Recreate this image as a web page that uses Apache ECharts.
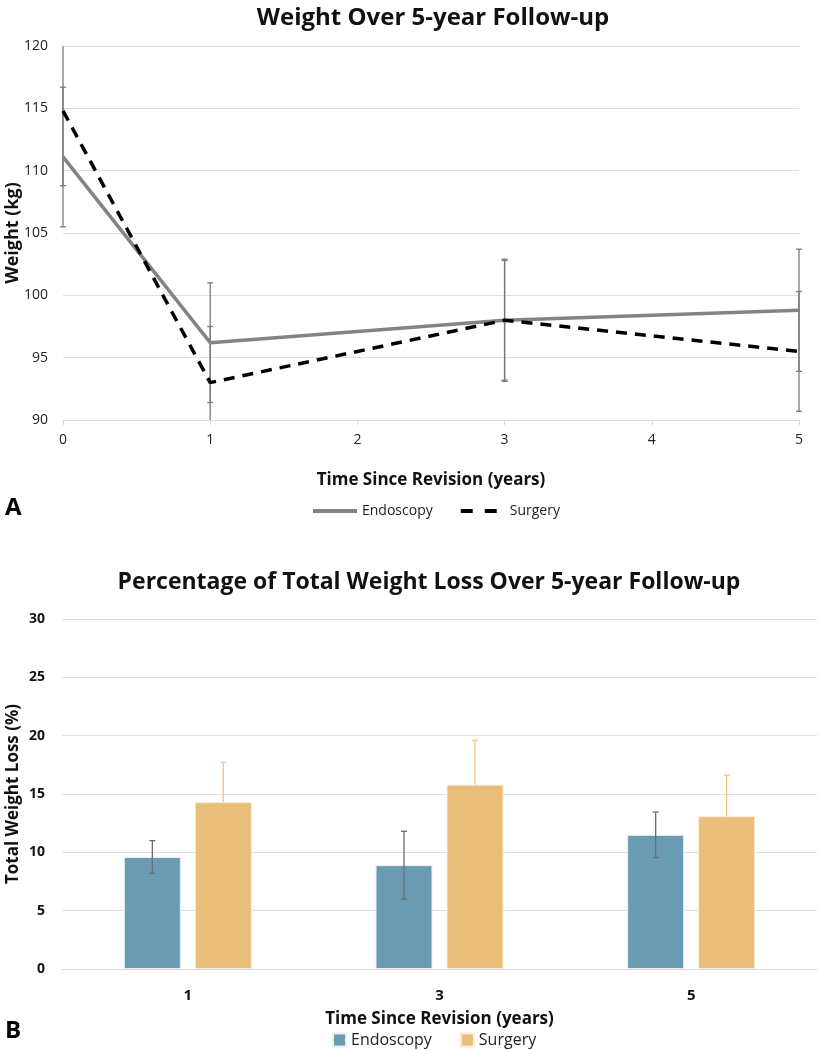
<!DOCTYPE html>
<html>
<head>
<meta charset="utf-8">
<script src="https://cdn.jsdelivr.net/npm/echarts@6/dist/echarts.min.js"></script>
<style>
html,body{margin:0;padding:0;background:#fff;}
#chart{width:819px;height:1050px;}
</style>
</head>
<body>
<div id="chart"></div>
<script>
// ---- Panel A data ----
const weightYears = [0, 1, 3, 5];
const endoWeight = [111.1, 96.2, 98.0, 98.8];
const endoWeightErr = [5.6, 4.8, 4.9, 4.9];
const surgWeight = [114.8, 93.0, 98.0, 95.5];
const surgWeightErr = [6.0, 4.5, 4.8, 4.8];
const weightTicks = [90, 95, 100, 105, 110, 115, 120];

// ---- Panel B data ----
const twlCategories = ['1', '3', '5'];
const endoTWL = [9.6, 8.9, 11.5];
const endoTWLErr = [1.4, 2.9, 1.95];
const surgTWL = [14.3, 15.8, 13.1];
const surgTWLErr = [3.4, 3.8, 3.5];

const FONT = '"Open Sans", "Noto Sans", sans-serif';
const BAR_W = 57, BAR_GAP_PX = 14;

function pairs(xs, ys) { return xs.map((x, i) => [x, ys[i]]); }
function errData(xs, ys, es) { return xs.map((x, i) => [x, ys[i] - es[i], ys[i] + es[i]]); }

function errRender(color, capHalf, offset) {
  return function (params, api) {
    const cs = params.coordSys;
    const x = api.coord([api.value(0), api.value(1)])[0] + offset;
    let yLo = api.coord([api.value(0), api.value(1)])[1];
    let yHi = api.coord([api.value(0), api.value(2)])[1];
    const top = cs.y, bot = cs.y + cs.height;
    const loClipped = yLo > bot, hiClipped = yHi < top;
    yLo = Math.min(Math.max(yLo, top), bot);
    yHi = Math.min(Math.max(yHi, top), bot);
    const style = { stroke: color, lineWidth: 1.3 };
    const children = [{ type: 'line', shape: { x1: x, y1: yLo, x2: x, y2: yHi }, style }];
    if (!hiClipped) children.push({ type: 'line', shape: { x1: x - capHalf, y1: yHi, x2: x + capHalf, y2: yHi }, style });
    if (!loClipped) children.push({ type: 'line', shape: { x1: x - capHalf, y1: yLo, x2: x + capHalf, y2: yLo }, style });
    return { type: 'group', children };
  };
}

const chart = echarts.init(document.getElementById('chart'), null, { renderer: 'canvas' });
const off = (BAR_W + BAR_GAP_PX) / 2;

chart.setOption({
  backgroundColor: '#ffffff',
  animation: false,
  textStyle: { fontFamily: FONT },
  title: [
    { text: 'Weight Over 5-year Follow-up', left: 428, top: 1, textAlign: 'center',
      textStyle: { fontFamily: FONT, fontSize: 24, fontWeight: 'bold', color: '#111' } },
    { text: 'Percentage of Total Weight Loss Over 5-year Follow-up', left: 424, top: 566, textAlign: 'center',
      textStyle: { fontFamily: FONT, fontSize: 23, fontWeight: 'bold', color: '#111' } }
  ],
  legend: [
    { data: [
        { name: 'Endoscopy', icon: 'path://M0,0H44V4H0Z' },
        { name: 'Surgery', icon: 'path://M0,0H12V4H0Z M24,0H36V4H24Z M43.9,1.9H44V2.1H43.9Z' }
      ],
      top: 504, left: 313, padding: 0, itemWidth: 44, itemHeight: 4, itemGap: 28, symbolKeepAspect: false,
      textStyle: { fontFamily: FONT, fontSize: 14, color: '#222' } },
    { data: ['Endoscopy TWL', 'Surgery TWL'], top: 1032, left: 332, padding: 0, itemWidth: 13, itemHeight: 13, itemGap: 28,
      icon: 'rect',
      formatter: n => n.replace(' TWL', ''),
      textStyle: { fontFamily: FONT, fontSize: 16, color: '#222' } }
  ],
  grid: [
    { left: 63, right: 20, top: 46, height: 374, outerBoundsMode: 'none', containLabel: false },
    { left: 62, right: 2, top: 619, height: 350, outerBoundsMode: 'none', containLabel: false }
  ],
  xAxis: [
    { gridIndex: 0, type: 'value', min: 0, max: 5, interval: 1,
      name: 'Time Since Revision (years)', nameLocation: 'middle', nameGap: 52, nameMoveOverlap: false,
      nameTextStyle: { fontFamily: FONT, fontSize: 17, fontWeight: 'bold', color: '#111' },
      axisLine: { show: true, lineStyle: { color: '#d9d9d9' } },
      axisTick: { show: true, length: 5, lineStyle: { color: '#d9d9d9' } },
      axisLabel: { fontFamily: FONT, fontSize: 14, color: '#222', margin: 13 },
      splitLine: { show: false } },
    { gridIndex: 1, type: 'category', data: twlCategories,
      name: 'Time Since Revision (years)', nameLocation: 'middle', nameGap: 42, nameMoveOverlap: false,
      nameTextStyle: { fontFamily: FONT, fontSize: 17, fontWeight: 'bold', color: '#111' },
      axisLine: { show: true, lineStyle: { color: '#d9d9d9' } },
      axisTick: { show: false },
      axisLabel: { fontFamily: FONT, fontSize: 15, fontWeight: 'bold', color: '#111', margin: 19 } }
  ],
  yAxis: [
    { gridIndex: 0, type: 'value', min: weightTicks[0], max: weightTicks[weightTicks.length - 1], interval: 5,
      name: 'Weight (kg)', nameLocation: 'middle', nameGap: 41, nameMoveOverlap: false,
      nameTextStyle: { fontFamily: FONT, fontSize: 18, fontWeight: 'bold', color: '#111' },
      axisLine: { show: false }, axisTick: { show: false },
      axisLabel: { fontFamily: FONT, fontSize: 14, color: '#222', margin: 15 },
      splitLine: { lineStyle: { color: '#e0e0e0', width: 1.2 } } },
    { gridIndex: 1, type: 'value', min: 0, max: 30, interval: 5,
      name: 'Total Weight Loss (%)', nameLocation: 'middle', nameGap: 40, nameMoveOverlap: false,
      nameTextStyle: { fontFamily: FONT, fontSize: 17, fontWeight: 'bold', color: '#111' },
      axisLine: { show: false }, axisTick: { show: false },
      axisLabel: { fontFamily: FONT, fontSize: 14, fontWeight: 'bold', color: '#111', margin: 17 },
      splitLine: { lineStyle: { color: '#e0e0e0', width: 1.2 } } }
  ],
  series: [
    { name: 'Endoscopy', type: 'line', xAxisIndex: 0, yAxisIndex: 0, data: pairs(weightYears, endoWeight),
      symbol: 'none', lineStyle: { color: '#838383', width: 3.5 }, itemStyle: { color: '#838383' }, z: 3 },
    { name: 'Surgery', type: 'line', xAxisIndex: 0, yAxisIndex: 0, data: pairs(weightYears, surgWeight),
      symbol: 'none', lineStyle: { color: '#000', width: 3.5, type: [11, 8] }, itemStyle: { color: '#000' }, z: 4 },
    { type: 'custom', xAxisIndex: 0, yAxisIndex: 0, data: errData(weightYears, endoWeight, endoWeightErr),
      renderItem: errRender('#7a7a7a', 3, 0), z: 2, silent: true },
    { type: 'custom', xAxisIndex: 0, yAxisIndex: 0, data: errData(weightYears, surgWeight, surgWeightErr),
      renderItem: errRender('#7a7a7a', 3, 0), z: 2, silent: true },
    { name: 'Endoscopy TWL', type: 'bar', xAxisIndex: 1, yAxisIndex: 1, data: endoTWL, barWidth: BAR_W,
      barGap: (BAR_GAP_PX / BAR_W * 100) + '%', z: 2,
      itemStyle: { color: '#6a9bb2', borderColor: '#e8eff3', borderWidth: 1 } },
    { name: 'Surgery TWL', type: 'bar', xAxisIndex: 1, yAxisIndex: 1, data: surgTWL, barWidth: BAR_W, z: 2,
      itemStyle: { color: '#e9be78', borderColor: '#f8ecd8', borderWidth: 1 } },
    { type: 'custom', xAxisIndex: 1, yAxisIndex: 1, data: errData([0, 1, 2], endoTWL, endoTWLErr),
      renderItem: errRender('#6e6e6e', 3, -off), z: 5, silent: true },
    { type: 'custom', xAxisIndex: 1, yAxisIndex: 1, data: errData([0, 1, 2], surgTWL, surgTWLErr),
      renderItem: errRender('#f2c684', 3, off), z: 1, silent: true }
  ],
  graphic: [
    { type: 'text', left: 5, top: 496, style: { text: 'A', fontFamily: FONT, fontSize: 24, fontWeight: 'bold', fill: '#000' } },
    { type: 'text', left: 5, top: 1019, style: { text: 'B', fontFamily: FONT, fontSize: 24, fontWeight: 'bold', fill: '#000' } }
  ]
});
</script>
</body>
</html>
